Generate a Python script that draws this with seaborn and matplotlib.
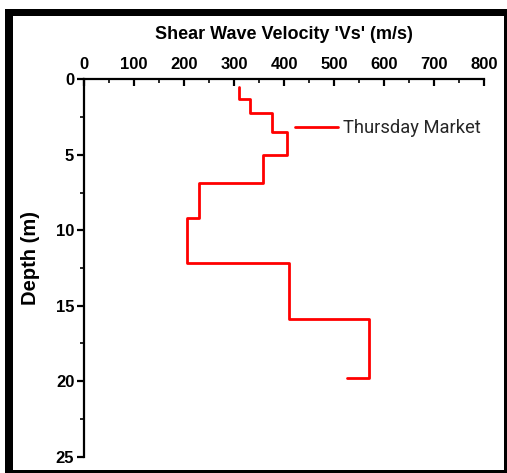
import matplotlib
matplotlib.use("Agg")
import matplotlib.pyplot as plt
from matplotlib.patches import Rectangle
from matplotlib.ticker import MultipleLocator
import pandas as pd
import seaborn as sns

# Shear-wave velocity profile (step vertices: velocity in m/s, depth in m)
velocity = [310, 310, 331, 331, 375, 375, 406, 406, 358, 358, 230, 230,
            205, 205, 409, 409, 569, 569, 526]
depth = [0.5, 1.3, 1.3, 2.25, 2.25, 3.5, 3.5, 5.0, 5.0, 6.9, 6.9, 9.2,
         9.2, 12.15, 12.15, 15.9, 15.9, 19.8, 19.8]
site = "Thursday Market"

x_ticks = [0, 100, 200, 300, 400, 500, 600, 700, 800]
y_ticks = [0, 5, 10, 15, 20, 25]

df = pd.DataFrame({"Vs": velocity, "Depth": depth, "Site": site})

sns.set_theme(style="white")
plt.rcParams["font.family"] = ["Liberation Sans", "DejaVu Sans"]

W, H = 507, 473
fig = plt.figure(figsize=(W / 100, H / 100), dpi=100)
ax = fig.add_axes([84 / W, 1 - 456.7 / H, 400.3 / W, 377.4 / H])

sns.lineplot(data=df, x="Vs", y="Depth", hue="Site", sort=False,
             palette=["#ff0000"], linewidth=2.0, ax=ax, estimator=None)

ax.set_xlim(0, 800)
ax.set_ylim(25, 0)
ax.xaxis.tick_top()
ax.xaxis.set_label_position("top")
ax.set_xticks(x_ticks)
ax.set_yticks(y_ticks)
ax.xaxis.set_minor_locator(MultipleLocator(50))
ax.yaxis.set_minor_locator(MultipleLocator(2.5))

for side in ["right", "bottom"]:
    ax.spines[side].set_visible(False)
for side in ["top", "left"]:
    ax.spines[side].set_visible(True)
    ax.spines[side].set_color("black")
    ax.spines[side].set_linewidth(1.6)

ax.tick_params(axis="x", which="major", direction="in", length=5, width=1.6,
               top=True, bottom=False, pad=5, labelsize=12, colors="black")
ax.tick_params(axis="x", which="minor", direction="in", length=3, width=1.4,
               top=True, bottom=False)
ax.tick_params(axis="y", which="major", direction="out", length=5, width=1.6,
               left=True, pad=2, labelsize=12, colors="black")
ax.tick_params(axis="y", which="minor", direction="out", length=3, width=1.4,
               left=True)
for lab in ax.get_xticklabels() + ax.get_yticklabels():
    lab.set_fontweight("bold")

ax.set_xlabel("Shear Wave Velocity 'Vs' (m/s)", fontsize=13, fontweight="bold",
              labelpad=13, color="black")
ax.set_ylabel("Depth (m)", fontsize=14.5, fontweight="bold", color="black")
ax.yaxis.set_label_coords(-0.11, 0.5265)

handles, labels = ax.get_legend_handles_labels()
ax.legend(handles, labels, loc="upper left", bbox_to_anchor=(0.51, 0.913),
          frameon=False, handlelength=2.3, handletextpad=0.3,
          borderaxespad=0, prop={"family": "Roboto", "size": 13.2})

# Black picture frame
def band(x0, y0, x1, y1):
    fig.patches.append(Rectangle((x0 / W, 1 - y1 / H), (x1 - x0) / W,
                                 (y1 - y0) / H, transform=fig.transFigure,
                                 facecolor="black", edgecolor="none", zorder=10))

band(5, 9, 13.5, 473)
band(5, 9, 507, 16.5)
band(504, 9, 507, 473)
band(5, 470, 507, 473)

fig.savefig("out.png", dpi=100)
